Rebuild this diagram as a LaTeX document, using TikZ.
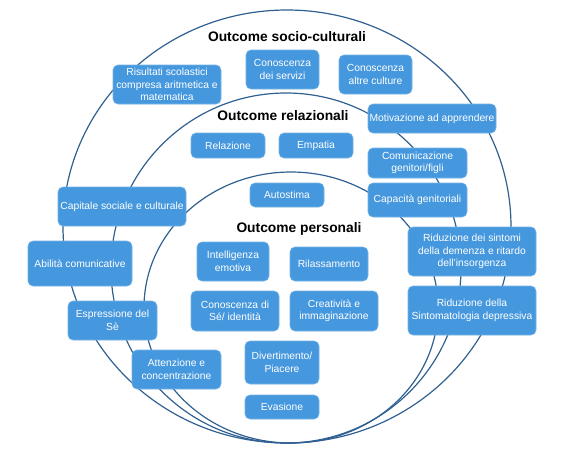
\documentclass[tikz,border=0pt]{standalone}
\usepackage{xcolor}
\usepackage{fontspec}
\setmainfont{Liberation Sans}
\usepackage{tikz}

\definecolor{boxblue}{RGB}{70,152,222}
\definecolor{ringblue}{RGB}{47,96,145}

\begin{document}
\begin{tikzpicture}[x=1pt, y=-1pt,
    outbox/.style={rectangle, rounded corners=5pt, fill=boxblue, draw=boxblue!75!white,
        line width=0.6pt, text=white, align=center, inner sep=1pt,
        font=\fontsize{10.3}{12.5}\selectfont},
    ring/.style={draw=ringblue, line width=1.2pt},
    title/.style={font=\bfseries\fontsize{13.8}{15}\selectfont}]
    \useasboundingbox (0,0) rectangle (568,448);

    % Three rings, touching at the bottom
    \draw[ring] (287,226.5) ellipse [x radius=224pt, y radius=216.5pt];
    \draw[ring] (286,268) ellipse [x radius=175pt, y radius=175pt];
    \draw[ring] (291,307.5) ellipse [x radius=147pt, y radius=135.5pt];

    % Titles
    \node[title] (tsocio) at (287,37) {Outcome socio-culturali};
    \node[title] (trel) at (283,116) {Outcome relazionali};
    \node[title] (tpers) at (299,229) {Outcome personali};

    % Socio-culturali
    \node[outbox, minimum width=108pt, minimum height=39pt] (risultati) at (167,84.5)
        {Risultati scolastici\\compresa aritmetica e\\matematica};
    \node[outbox, minimum width=73pt, minimum height=39pt] (servizi) at (282.5,69.5)
        {Conoscenza\\dei servizi};
    \node[outbox, minimum width=73pt, minimum height=39pt] (culture) at (375.5,74.5)
        {Conoscenza\\altre culture};
    \node[outbox, minimum width=128pt, minimum height=29pt] (motivazione) at (432,118.5)
        {Motivazione ad apprendere};
    \node[outbox, minimum width=128pt, minimum height=39pt] (capitale) at (122,206.5)
        {Capitale sociale e culturale};
    \node[outbox, minimum width=104pt, minimum height=45pt] (abilita) at (80,263.5)
        {Abilità comunicative};
    \node[outbox, minimum width=89pt, minimum height=39pt] (espressione) at (112.5,320.5)
        {Espressione del\\Sè};
    \node[outbox, minimum width=89pt, minimum height=39pt] (attenzione) at (176.5,369.5)
        {Attenzione e\\concentrazione};

    % Relazionali
    \node[outbox, minimum width=74pt, minimum height=25pt] (relazione) at (228,145.5) {Relazione};
    \node[outbox, minimum width=74pt, minimum height=25pt] (empatia) at (316,145.5) {Empatia};
    \node[outbox, minimum width=99pt, minimum height=30pt] (comunicazione) at (417.5,163)
        {Comunicazione\\genitori/figli};
    \node[outbox, minimum width=99pt, minimum height=34pt] (capacita) at (417.5,200)
        {Capacità genitoriali};
    \node[outbox, minimum width=128pt, minimum height=49pt] (demenza) at (472,251.5)
        {Riduzione dei sintomi\\della demenza e ritardo\\dell’insorgenza};
    \node[outbox, minimum width=128pt, minimum height=49pt] (depressiva) at (472,310.5)
        {Riduzione della\\Sintomatologia depressiva};

    % Personali
    \node[outbox, minimum width=74pt, minimum height=24pt] (autostima) at (287,195) {Autostima};
    \node[outbox, minimum width=72pt, minimum height=39pt] (intelligenza) at (233,261.5)
        {Intelligenza\\emotiva};
    \node[outbox, minimum width=78pt, minimum height=34pt] (rilassamento) at (329,264) {Rilassamento};
    \node[outbox, minimum width=88pt, minimum height=40pt] (conoscenza) at (235,311)
        {Conoscenza di\\Sé/ identità};
    \node[outbox, minimum width=88pt, minimum height=40pt] (creativita) at (334,311)
        {Creatività e\\immaginazione};
    \node[outbox, minimum width=74pt, minimum height=43pt] (divertimento) at (282,362.5)
        {Divertimento/\\Piacere};
    \node[outbox, minimum width=74pt, minimum height=24pt] (evasione) at (282,407) {Evasione};
\end{tikzpicture}
\end{document}
